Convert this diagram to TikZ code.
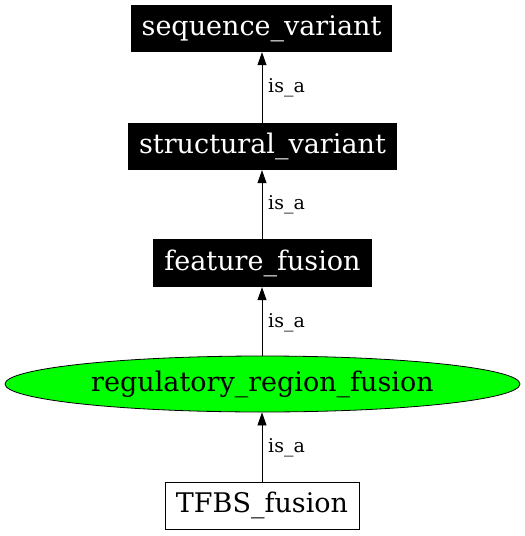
\documentclass[tikz,border=0pt]{standalone}
\usepackage{fontspec}
\setmainfont{DejaVu Serif}
\usetikzlibrary{arrows.meta,shapes.geometric}
\begin{document}
\begin{tikzpicture}[x=1pt,y=1pt,
  blackbox/.style={rectangle,fill=black,text=white,inner sep=0pt,font=\fontsize{27}{32}\selectfont},
  whitebox/.style={rectangle,draw=black,line width=0.8pt,fill=white,inner sep=0pt,font=\fontsize{27}{32}\selectfont},
  greenell/.style={ellipse,draw=black,line width=0.8pt,fill={rgb,255:red,0;green,255;blue,0},inner sep=0pt,font=\fontsize{27}{32}\selectfont},
  edge/.style={draw=black,line width=0.8pt,-{Triangle[length=13pt,width=9pt]}},
  lbl/.style={anchor=west,inner sep=0pt,font=\fontsize{19}{22}\selectfont}]
\useasboundingbox (0,0) rectangle (525,-536);
\node[blackbox,minimum width=261pt,minimum height=47pt] (sv) at (261.5,-28.5) {sequence\_variant};
\node[blackbox,minimum width=269pt,minimum height=47pt] (stv) at (262.5,-146.5) {structural\_variant};
\node[blackbox,minimum width=219pt,minimum height=48pt] (ff) at (262.5,-263) {feature\_fusion};
\node[greenell,minimum width=515pt,minimum height=56pt] (rrf) at (262.5,-384) {regulatory\_region\_fusion};
\node[whitebox,minimum width=194pt,minimum height=47pt] (tf) at (262,-505.5) {TFBS\_fusion};
\draw[edge] (stv.north -| 262,0) -- (sv.south -| 262,0);
\draw[edge] (ff.north -| 262,0) -- (stv.south -| 262,0);
\draw[edge] (rrf.north -| 262,0) -- (ff.south -| 262,0);
\draw[edge] (tf.north -| 262,0) -- (rrf.south -| 262,0);
\node[lbl] (l1) at (268,-88) {is\_a};
\node[lbl] (l2) at (268,-205) {is\_a};
\node[lbl] (l3) at (268,-323) {is\_a};
\node[lbl] (l4) at (268,-448) {is\_a};
\end{tikzpicture}
\end{document}
